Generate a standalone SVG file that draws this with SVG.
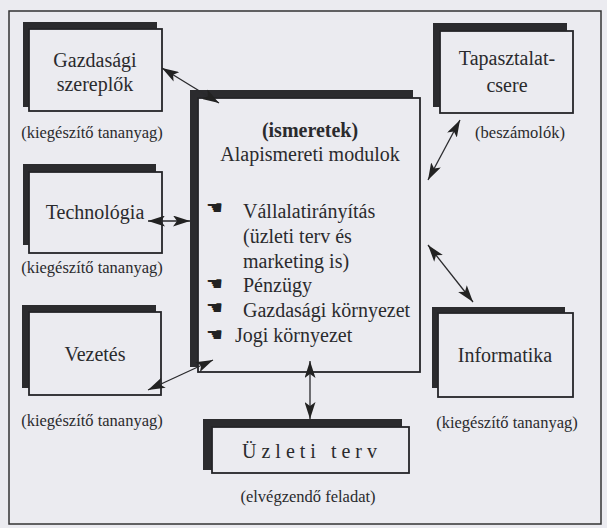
<svg xmlns="http://www.w3.org/2000/svg" width="607" height="528" viewBox="0 0 607 528">
<style>
.bg{fill:#ebebf0}
.frame{fill:none;stroke:#333;stroke-width:1.5}
.sh{fill:#2b2b2e}
.bx{fill:#ebebf0;stroke:#252528;stroke-width:1.8}
.t{font-family:"Liberation Serif","Times New Roman",serif;font-size:20px;fill:#2a2a2d;text-anchor:middle}
.s{font-family:"Liberation Serif","Times New Roman",serif;font-size:16.5px;fill:#2a2a2d;text-anchor:middle}
.l{font-family:"Liberation Serif","Times New Roman",serif;font-size:20px;fill:#2a2a2d}
.b{font-family:"DejaVu Sans",sans-serif;font-size:19px;fill:#222}
.c{fill:none;stroke:#2a2a2d;stroke-width:1.3;marker-start:url(#ah);marker-end:url(#ah)}
</style>
<defs>
<marker id="ah" markerUnits="userSpaceOnUse" markerWidth="18" markerHeight="11" refX="17" refY="5.5" orient="auto-start-reverse" viewBox="0 0 18 11">
<path d="M0,0 L17,5.5 L0,11 L4,5.5 Z" fill="#222"/>
</marker>
</defs>
<rect class="bg" x="0" y="0" width="607" height="528"/>
<rect class="frame" x="9" y="11" width="592" height="513"/>

<g id="gazdasagi">
<rect class="sh" x="23" y="22" width="134" height="85"/>
<rect class="bx" x="29" y="29" width="133" height="82"/>
<text class="t" x="95" y="67">Gazdasági</text>
<text class="t" x="95" y="91">szereplők</text>
<text class="s" x="92" y="138">(kiegészítő tananyag)</text>
</g>

<g id="technologia">
<rect class="sh" x="23" y="164" width="133" height="81"/>
<rect class="bx" x="29" y="172" width="133" height="81"/>
<text class="t" x="95" y="219">Technológia</text>
<text class="s" x="92" y="273">(kiegészítő tananyag)</text>
</g>

<g id="vezetes">
<rect class="sh" x="22" y="305" width="134" height="83"/>
<rect class="bx" x="29" y="312" width="132" height="83"/>
<text class="t" x="95" y="361">Vezetés</text>
<text class="s" x="92" y="426">(kiegészítő tananyag)</text>
</g>

<g id="alapismereti">
<rect class="sh" x="190" y="90" width="223" height="277"/>
<rect class="bx" x="198" y="98" width="222" height="274"/>
<text class="t" x="310" y="137" font-weight="bold">(ismeretek)</text>
<text class="t" x="310" y="161">Alapismereti modulok</text>
<text class="b" x="206" y="214">☚</text>
<text class="l" x="243" y="218">Vállalatirányítás</text>
<text class="l" x="243" y="243">(üzleti terv és</text>
<text class="l" x="243" y="268">marketing is)</text>
<text class="b" x="206" y="290">☚</text>
<text class="l" x="243" y="292">Pénzügy</text>
<text class="b" x="206" y="314">☚</text>
<text class="l" x="243" y="317">Gazdasági környezet</text>
<text class="b" x="206" y="341">☚</text>
<text class="l" x="235" y="342">Jogi környezet</text>
</g>

<g id="tapasztalatcsere">
<rect class="sh" x="433" y="23" width="134" height="84"/>
<rect class="bx" x="440" y="31" width="133" height="82"/>
<text class="t" x="507" y="65">Tapasztalat-</text>
<text class="t" x="507" y="92">csere</text>
<text class="s" x="520" y="138">(beszámolók)</text>
</g>

<g id="informatika">
<rect class="sh" x="432" y="307" width="133" height="81"/>
<rect class="bx" x="438" y="313" width="135" height="84"/>
<text class="t" x="505" y="362">Informatika</text>
<text class="s" x="507" y="428">(kiegészítő tananyag)</text>
</g>

<g id="uzleti-terv">
<rect class="sh" x="203" y="419" width="199" height="51"/>
<rect class="bx" x="212" y="427" width="197" height="46"/>
<text class="l" x="242" y="458" textLength="135" lengthAdjust="spacing">Üzleti terv</text>
<text class="s" x="308" y="502">(elvégzendő feladat)</text>
</g>

<g id="connectors">
<line class="c" x1="162" y1="68" x2="219" y2="103"/>
<line class="c" x1="148" y1="221" x2="190" y2="221"/>
<line class="c" x1="148" y1="390" x2="213" y2="360"/>
<line class="c" x1="460" y1="120" x2="428" y2="180"/>
<line class="c" x1="428" y1="245" x2="473" y2="302"/>
<line class="c" x1="310" y1="361" x2="310" y2="419"/>
</g>
</svg>
